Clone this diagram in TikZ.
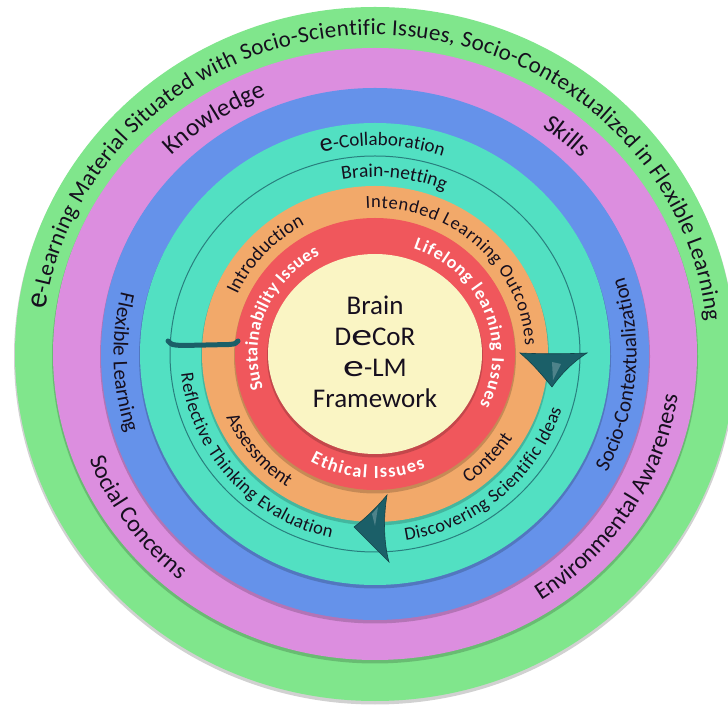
\documentclass[tikz,border=0pt]{standalone}
\usepackage{fontspec}
\setmainfont{Carlito}
\usepackage{graphicx}
\usetikzlibrary{decorations.text}
\definecolor{ringgreen}{HTML}{80E68C}
\definecolor{ringpink}{HTML}{DC8EDF}
\definecolor{ringblue}{HTML}{6592EA}
\definecolor{ringteal}{HTML}{52E0C2}
\definecolor{ringorange}{HTML}{F2A96A}
\definecolor{ringred}{HTML}{F0575C}
\definecolor{ringyellow}{HTML}{FAF5C4}
\definecolor{arrowteal}{HTML}{1B5F68}
\definecolor{inkdark}{HTML}{160F1E}
\newcommand\eglyph{\scalebox{1.55}[1.15]{e}}

\begin{document}
\begin{tikzpicture}[x=1pt, y=1pt,
    fitlabel/.style={decorate, decoration={text along path, text align=fit to path, text color=inkdark, #1}},
    wordlabel/.style={decorate, decoration={text along path, text align=center, text color=inkdark, #1}},
    redlabel/.style={decorate, decoration={text along path, text align=fit to path, text color=white, #1}},
    cyclehead/.style={fill=arrowteal, draw=arrowteal!70!black, line width=0.6}]
    \useasboundingbox (0,0) rectangle (728,704);
    \fill[white] (0,0) rectangle (728,704);
    \begin{scope}[shift={(375,350)}]
        \foreach \rx/\ry/\col in {360/347/ringgreen, 322/306/ringpink, 274/266/ringblue, 235/231/ringteal, 173/168/ringorange, 140/136/ringred, 107/100/ringyellow} {
        \fill[black, opacity=.18] (0,-2.5) ellipse [x radius=\rx+1, y radius=\ry+1];
        \fill[\col] (0,0) ellipse [x radius=\rx, y radius=\ry];
        }
        \draw[arrowteal!75!ringteal, line width=1] (0,0) ellipse [x radius=205, y radius=198];

        \path[fitlabel={text={|\fontsize{31}{31}\selectfont|e|\fontsize{23}{25}\selectfont|-Learning Material Situated with Socio-Scientific Issues, Socio-Contextualized in Flexible Learning}}]
            (172:333 and 319) arc[start angle=172, end angle=6, x radius=333, y radius=319];

        \path[wordlabel={text={|\fontsize{25}{27}\selectfont|Knowledge}}]
            (150:290 and 278) arc[start angle=150, end angle=97, x radius=290, y radius=278];
        \path[wordlabel={text={|\fontsize{25}{27}\selectfont|Skills}}]
            (75:290 and 278) arc[start angle=75, end angle=24, x radius=290, y radius=278];
        \path[wordlabel={text={|\fontsize{24}{26}\selectfont|Social Concerns}}]
            (190:306 and 294) arc[start angle=190, end angle=241, x radius=306, y radius=294];
        \path[wordlabel={text={|\fontsize{24}{26}\selectfont|Environmental Awareness}}]
            (-66:306 and 294) arc[start angle=-66, end angle=1, x radius=306, y radius=294];

        \path[wordlabel={text={|\fontsize{21}{23}\selectfont|Flexible Learning}}]
            (160:261.5 and 255.5) arc[start angle=160, end angle=204, x radius=261.5, y radius=255.5];
        \path[wordlabel={text={|\fontsize{21}{23}\selectfont|Socio-Contextualization}}]
            (-32:261.5 and 255.5) arc[start angle=-32, end angle=22, x radius=261.5, y radius=255.5];

        \path[wordlabel={text={|\fontsize{26}{26}\selectfont|e|\fontsize{19}{21}\selectfont|-Collaboration}}]
            (110:214 and 208.5) arc[start angle=110, end angle=66, x radius=214, y radius=208.5];
        \path[wordlabel={text={|\fontsize{19.5}{21}\selectfont|Brain-netting}}]
            (104:183 and 177) arc[start angle=104, end angle=64, x radius=183, y radius=177];
        \path[fitlabel={text={|\fontsize{18.5}{20}\selectfont|Reflective Thinking Evaluation}}]
            (186:195 and 189) arc[start angle=186, end angle=257, x radius=195, y radius=189];
        \path[fitlabel={text={|\fontsize{18.5}{20}\selectfont|Discovering Scientific Ideas}}]
            (-81:195 and 189) arc[start angle=-81, end angle=-17, x radius=195, y radius=189];

        \path[wordlabel={text={|\fontsize{19.5}{21}\selectfont|Introduction}}]
            (160:150.5 and 146) arc[start angle=160, end angle=114, x radius=150.5, y radius=146];
        \path[fitlabel={text={|\fontsize{18.5}{20}\selectfont|Intended Learning Outcomes}}]
            (93.5:150.5 and 146) arc[start angle=93.5, end angle=3.5, x radius=150.5, y radius=146];
        \path[wordlabel={text={|\fontsize{19.5}{21}\selectfont|Assessment}}]
            (200:162.5 and 158) arc[start angle=200, end angle=241, x radius=162.5, y radius=158];
        \path[wordlabel={text={|\fontsize{19.5}{21}\selectfont|Content}}]
            (-60:162.5 and 158) arc[start angle=-60, end angle=-27, x radius=162.5, y radius=158];

        \path[redlabel={text={|\bfseries\fontsize{18}{20}\selectfont|Sustainability Issues}}]
            (198:117.5 and 112) arc[start angle=198, end angle=118, x radius=117.5, y radius=112];
        \path[redlabel={text={|\bfseries\fontsize{18}{20}\selectfont|Lifelong learning Issues}}]
            (71:117.5 and 112) arc[start angle=71, end angle=-27, x radius=117.5, y radius=112];
        \path[redlabel={text={|\bfseries\fontsize{18.5}{20}\selectfont|Ethical Issues}}]
            (240:129.5 and 124) arc[start angle=240, end angle=293, x radius=129.5, y radius=124];

        \node[align=center, text=inkdark, font=\fontsize{27}{31}\selectfont] (title) at (0,2) {Brain\\D\eglyph CoR\\\eglyph-LM\\Framework};

        \draw[arrowteal, line width=5, line cap=round] (-207,13) .. controls (-203,9) .. (-192,8.5) -- (-146,9.5) .. controls (-140,10) .. (-137,13);
        \fill[cyclehead] (145,1) .. controls (158,-10) and (168,-22) .. (177,-33) .. controls (186,-20) and (198,-8) .. (212,1) .. controls (190,0) and (165,0) .. cycle;
        \fill[arrowteal!55!white, opacity=.5] (177,-8) -- (186,-10) -- (178,-26) -- cycle;
        \fill[cyclehead] (12,-141) .. controls (8,-165) and (9,-190) .. (14,-208) .. controls (2,-196) and (-10,-184) .. (-21,-173) .. controls (-9,-164) and (3,-152) .. cycle;
        \fill[arrowteal!55!white, opacity=.5] (-3,-160) -- (3,-153) -- (0,-172) -- cycle;
    \end{scope}
\end{tikzpicture}
\end{document}
